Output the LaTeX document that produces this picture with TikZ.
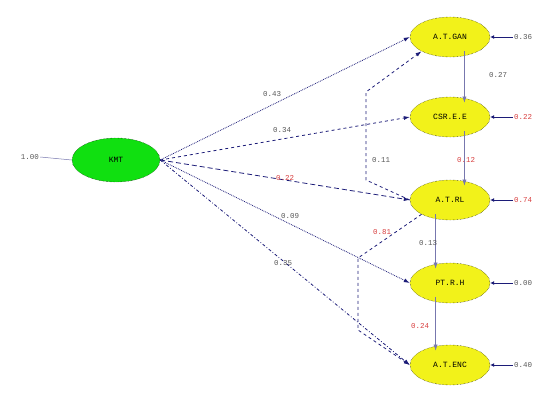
\documentclass[tikz,border=0pt]{standalone}
\usepackage{fontspec}
\setmainfont{Liberation Mono}
\usetikzlibrary{shapes.geometric,arrows.meta}
\definecolor{navy}{HTML}{1C1C78}
\definecolor{latgreen}{HTML}{10E010}
\definecolor{latyellow}{HTML}{F2F21A}
\definecolor{coefred}{HTML}{D84040}
\tikzset{
  x=1pt, y=-1pt,
  exo/.style={ellipse, draw=black, densely dotted, fill=latgreen, minimum width=88pt, minimum height=44pt, inner sep=0pt, font=\fontsize{8}{9}\selectfont},
  endo/.style={ellipse, draw=black, densely dotted, fill=latyellow, minimum width=80pt, minimum height=40pt, inner sep=0pt, font=\fontsize{8}{9}\selectfont},
  coef/.style={font=\fontsize{7.5}{8}\selectfont, text=black!65, inner sep=1pt},
  redcoef/.style={coef, text=coefred},
  path/.style={draw=navy, line width=0.8pt, -{Latex[length=6pt,width=4pt]}},
  link/.style={draw=navy!60, line width=0.5pt, -{Latex[length=6pt,width=4pt]}},
}
\begin{document}
\begin{tikzpicture}
\useasboundingbox (0,0) rectangle (549,396);
% latent variables
\node[exo] (x) at (116,160) {KMT};
\node[endo] (y1) at (450,37) {A.T.GAN};
\node[endo] (y2) at (450,117) {CSR.E.E};
\node[endo] (y3) at (450,200) {A.T.RL};
\node[endo] (y4) at (450,283) {PT.R.H};
\node[endo] (y5) at (450,365) {A.T.ENC};
% variance / residual labels
\node[coef] (vx) at (30,157) {1.00};
\draw[navy!60, line width=0.5pt] (vx.east) -- (x.west);
\node[coef] (r1) at (523,37) {0.36};
\node[redcoef] (r2) at (523,117) {0.22};
\node[redcoef] (r3) at (523,200) {0.74};
\node[coef] (r4) at (523,283) {0.00};
\node[coef] (r5) at (523,365) {0.40};
\foreach \i in {1,...,5}{\draw[navy, line width=0.8pt, -{Latex[length=4pt,width=4pt]}] (r\i.west) -- (y\i.east);}
% direct effects from the exogenous factor
\draw[path, densely dotted] (x.east) -- (y1.west);
\draw[path, dashed] (x.east) -- (y2.west);
\draw[path, dash pattern=on 5pt off 3pt] (x.east) -- (y3.west);
\draw[path, densely dotted] (x.east) -- (y4.west);
\draw[path, dash dot] (x.east) -- (y5.west);
\node[coef] at (272,94) {0.43};
\node[coef] at (282,130) {0.34};
\node[redcoef] at (285,178) {0.22};
\node[coef] at (290,216) {0.09};
\node[coef] at (283,263) {0.35};
% paths among the endogenous factors
\coordinate (k1) at (366,92);
\coordinate (k2) at (366,180);
\draw[path, dashed] (y3.west) -- (k2) -- (k1) -- (y1.south west);
\node[coef] at (381,160) {0.11};
\coordinate (k3) at (358,258);
\coordinate (k4) at (358,330);
\draw[path, dashed] (y3.south west) -- (k3) -- (k4) -- (y5.west);
\node[redcoef] at (382,232) {0.81};
\draw[link] ([xshift=-14pt]y1.south east) -- ([xshift=-14pt]y2.north east);
\node[coef] at (498,75) {0.27};
\draw[link] ([xshift=-14pt]y2.south east) -- ([xshift=-14pt]y3.north east);
\node[redcoef] at (466,160) {0.12};
\draw[link] ([xshift=14pt]y3.south west) -- ([xshift=14pt]y4.north west);
\node[coef] at (428,243) {0.13};
\draw[link] ([xshift=14pt]y4.south west) -- ([xshift=14pt]y5.north west);
\node[redcoef] at (420,326) {0.24};
\end{tikzpicture}
\end{document}
